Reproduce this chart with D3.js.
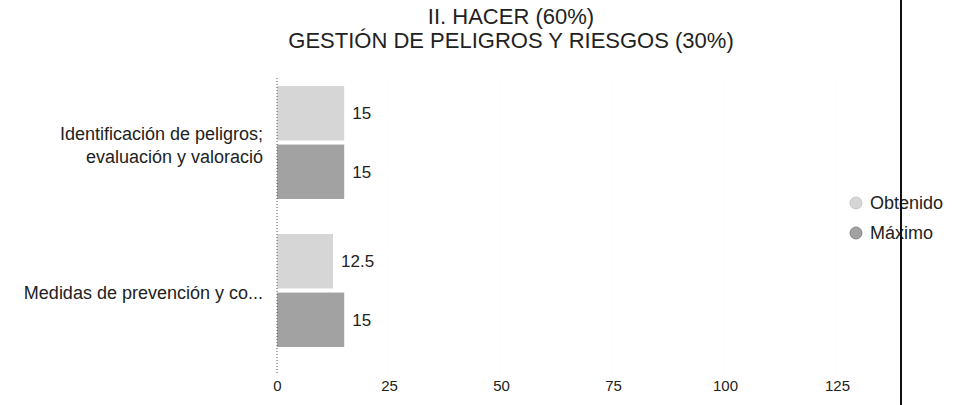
<!DOCTYPE html>
<html>
<head>
<meta charset="utf-8">
<script src="https://cdn.jsdelivr.net/npm/d3@7"></script>
<style>
  body { margin: 0; background: #fff; }
  svg text { font-family: "Liberation Sans", Arial, sans-serif; fill: #222; }
</style>
</head>
<body>
<svg id="chart" width="963" height="405"></svg>
<script>
// chart values
var titleLines = ["II. HACER (60%)", "GESTIÓN DE PELIGROS Y RIESGOS (30%)"];
var categories = ["Identificación de peligros; evaluación y valoració", "Medidas de prevención y co..."];
var categoryLines = [["Identificación de peligros;", "evaluación y valoració"], ["Medidas de prevención y co..."]];
var seriesNames = ["Obtenido", "Máximo"];
var obtenido = [15, 12.5];
var maximo = [15, 15];
var xTicks = [0, 25, 50, 75, 100, 125];

var seriesColors = {
    "Obtenido": "#d6d6d6",
    "Máximo": "#a2a2a2"
};

var svg = d3.select("#chart");

var x = d3.scaleLinear().domain([0, 125]).range([277, 837]);
var y = d3.scaleBand().domain(categories).range([68, 364]);
// bars inside each category band
var ySub = d3.scaleBand().domain(seriesNames).range([18, 131]).paddingInner(0.07);

var rows = categories.map(function(c, i){
    return { cat: c, lines: categoryLines[i], values: [obtenido[i], maximo[i]] };
});

// faint grid
svg.append("g")
    .selectAll("line")
    .data(xTicks.slice(1))
    .enter()
    .append("line")
    .attr("x1", function(d){ return x(d); })
    .attr("x2", function(d){ return x(d); })
    .attr("y1", 78).attr("y2", 375)
    .attr("stroke", "#f2f2f2")
    .attr("stroke-dasharray", "1,3");

// title
svg.append("g")
    .selectAll("text")
    .data(titleLines)
    .enter()
    .append("text")
    .attr("x", 511)
    .attr("y", function(d, i){ return 16 + i * 24; })
    .attr("dy", "0.35em")
    .attr("text-anchor", "middle")
    .style("font-size", "22px")
    .text(function(d){ return d; });

// bars
var groups = svg.selectAll(".row")
    .data(rows)
    .enter()
    .append("g")
    .attr("class", "row")
    .attr("transform", function(d){ return "translate(0," + y(d.cat) + ")"; });

groups.selectAll("rect")
    .data(function(d){ return d.values.map(function(v, j){ return { name: seriesNames[j], value: v }; }); })
    .enter()
    .append("rect")
    .attr("x", x(0))
    .attr("y", function(d){ return ySub(d.name); })
    .attr("width", function(d){ return x(d.value) - x(0); })
    .attr("height", ySub.bandwidth())
    .attr("fill", function(d){ return seriesColors[d.name]; });

groups.selectAll(".val")
    .data(function(d){ return d.values.map(function(v, j){ return { name: seriesNames[j], value: v }; }); })
    .enter()
    .append("text")
    .attr("class", "val")
    .attr("x", function(d){ return x(d.value) + 8; })
    .attr("y", function(d){ return ySub(d.name) + ySub.bandwidth() / 2; })
    .attr("dy", "0.35em")
    .style("font-size", "17px")
    .text(function(d){ return d.value; });

// category labels
groups.each(function(d){
    var g = d3.select(this);
    var n = d.lines.length;
    var mid = y.bandwidth() / 2 + 3;
    d.lines.forEach(function(line, k){
        g.append("text")
            .attr("x", x(0) - 14)
            .attr("y", mid + (k - (n - 1) / 2) * 23)
            .attr("dy", "0.35em")
            .attr("text-anchor", "end")
            .style("font-size", "18px")
            .text(line);
    });
});

// baseline at zero
svg.append("line")
    .attr("x1", x(0)).attr("x2", x(0))
    .attr("y1", 78).attr("y2", 375)
    .attr("stroke", "#555")
    .attr("stroke-dasharray", "1,2");

// x axis
var xAxis = d3.axisBottom(x).tickValues(xTicks).tickSize(0).tickPadding(0);
var axisG = svg.append("g")
    .attr("transform", "translate(0,380)")
    .call(xAxis);
axisG.select(".domain").remove();
axisG.selectAll("text")
    .style("font-size", "15px")
    .attr("fill", "#222");

// legend
var legend = svg.selectAll(".legend")
    .data(seriesNames)
    .enter()
    .append("g")
    .attr("class", "legend")
    .attr("transform", function(d, i){ return "translate(856," + (203 + i * 30) + ")"; });

legend.append("circle")
    .attr("r", 6)
    .attr("fill", function(d){ return seriesColors[d]; })
    .attr("stroke", function(d, i){ return i ? "#777" : "#bbb"; })
    .attr("stroke-width", 0.8);

legend.append("text")
    .attr("x", 14)
    .attr("dy", "0.35em")
    .style("font-size", "18px")
    .text(function(d){ return d; });

// scanned page edge
svg.append("line")
    .attr("x1", 901).attr("x2", 901)
    .attr("y1", 0).attr("y2", 405)
    .attr("stroke", "#111")
    .attr("stroke-width", 2);
</script>
</body>
</html>
